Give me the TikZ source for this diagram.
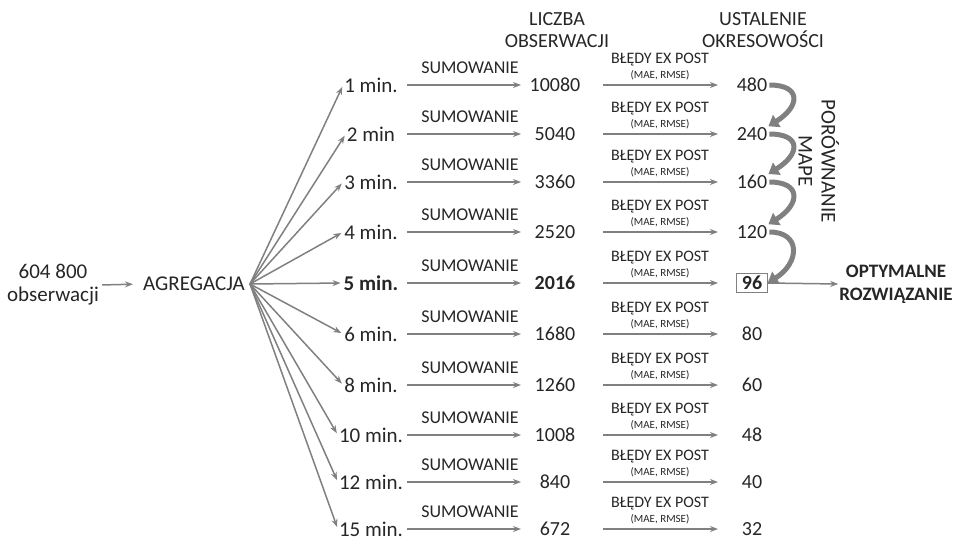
\documentclass[tikz,border=0pt]{standalone}
\usepackage{fontspec}
\setmainfont{Carlito}
\usetikzlibrary{arrows.meta}
\definecolor{linegray}{RGB}{128,128,128}
\definecolor{txtgray}{RGB}{38,38,38}
\tikzset{
  lbl/.style={text=txtgray, font=\fontsize{20}{22}\selectfont, inner sep=1pt},
  minlbl/.style={text=txtgray, font=\fontsize{21}{23}\selectfont, inner sep=1pt},
  sumlbl/.style={text=txtgray, font=\fontsize{18}{20}\selectfont, inner sep=1pt},
  errlbl/.style={text=txtgray, font=\fontsize{16}{18}\selectfont, inner sep=1pt},
  metlbl/.style={text=txtgray, font=\fontsize{11}{12}\selectfont, inner sep=1pt},
  arr/.style={draw=linegray, line width=1.5pt, -{Stealth[length=8pt,width=6pt]}},
  bigarr/.style={draw=linegray, line width=5pt, -{Triangle[length=10pt,width=14pt]}},
  norm/.style={},
  strong/.style={execute at begin node=\bfseries},
  boxed/.style={strong, draw=linegray, line width=1pt, inner xsep=5pt, inner ysep=3pt}
}
\begin{document}
\begin{tikzpicture}[x=1pt,y=-1pt]
		\useasboundingbox (0,0) rectangle (959,541);

		\node[minlbl, align=center] (obs) at (53,285) {604 800\\obserwacji};
		\node[minlbl] (agr) at (194,284) {AGREGACJA};
		\coordinate (fan) at (250,284);
		\draw[arr, shorten >=9pt, shorten <=2pt] (obs.east) -- (agr.west);

		\node[lbl, align=center] (hdA) at (557,30) {LICZBA\\OBSERWACJI};
		\node[lbl, align=center] (hdB) at (763,30) {USTALENIE\\OKRESOWOŚCI};

		\foreach \i/\m/\n/\o/\y/\s/\t in {1/1 min./10080/480/85/norm/norm, 2/2 min/5040/240/134/norm/norm,
				3/3 min./3360/160/182/norm/norm, 4/4 min./2520/120/232/norm/norm, 5/5 min./2016/96/283/strong/boxed,
				6/6 min./1680/80/334/norm/norm, 7/8 min./1260/60/385/norm/norm, 8/10 min./1008/48/435/norm/norm,
				9/12 min./840/40/482/norm/norm, 10/15 min./672/32/529/norm/norm} {
			\node[minlbl, \s] (m\i) at (371,\y) {\m};
			\node[lbl, \s] (n\i) at (555,\y) {\n};
			\node[lbl, \t] (o\i) at (752,\y) {\o};
			\node[sumlbl] (sl\i) at (470,\y-17) {SUMOWANIE};
			\node[errlbl] (el\i) at (660,\y-25) {BŁĘDY EX POST};
			\node[metlbl] (ml\i) at (660,\y-10) {(MAE, RMSE)};
			\coordinate (sa\i) at (407,\y);
			\coordinate (sb\i) at (521,\y);
			\coordinate (ea\i) at (603,\y);
			\coordinate (eb\i) at (718,\y);
			\draw[arr, shorten >=2pt] (fan) -- (m\i.west);
			\draw[arr] (sa\i) -- (sb\i);
			\draw[arr] (ea\i) -- (eb\i);
		}

		\foreach \s/\t/\a in {1/2/north east, 2/3/north east, 3/4/north east, 4/5/east} {
			\draw[bigarr] ([xshift=1pt]o\s.east) .. controls +(32,0) and +(32,-20) .. (o\t.\a);
		}
		\node[minlbl, rotate=-90, align=center] (cmp) at (819,161) {PORÓWNANIE\\MAPE};

		\node[lbl, font=\fontsize{19}{23}\selectfont\bfseries, align=center] (opt) at (896,284) {OPTYMALNE\\ROZWIĄZANIE};
		\draw[arr] (o5.east) -- (opt.west);
	\end{tikzpicture}
\end{document}
